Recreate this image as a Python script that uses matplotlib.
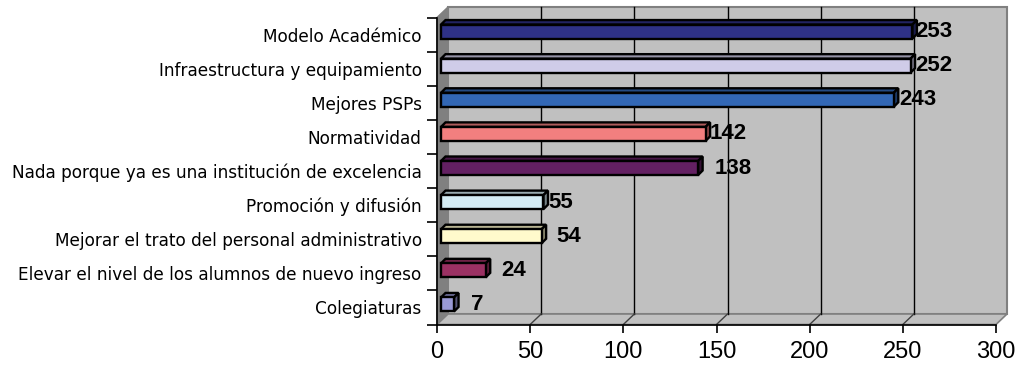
import matplotlib
matplotlib.use("Agg")
import matplotlib.pyplot as plt
from matplotlib.patches import Polygon
from matplotlib import font_manager
import numpy as np
import os

# survey answers, listed top to bottom
categories = [
    "Modelo Académico",
    "Infraestructura y equipamiento",
    "Mejores PSPs",
    "Normatividad",
    "Nada porque ya es una institución de excelencia",
    "Promoción y difusión",
    "Mejorar el trato del personal administrativo",
    "Elevar el nivel de los alumnos de nuevo ingreso",
    "Colegiaturas",
]
counts = [253, 252, 243, 142, 138, 55, 54, 24, 7]
x_ticks = [0, 50, 100, 150, 200, 250, 300]

bar_colors = ["#2E3187", "#CFCCE8", "#3267B5", "#F27F7F", "#632062",
              "#D4ECF4", "#FFFACC", "#9B3163", "#9A9AD6"]
# extra space (px) between each bar end and its value label
label_gap = [-2, 0, 1, 0, 12, 0, 10, 11, 12]


def arial_like(fname, size):
    # pick the regular-width Liberation Sans file, not the Narrow one
    for path in font_manager.findSystemFonts():
        if os.path.basename(path) == fname:
            return font_manager.FontProperties(fname=path, size=size)
    return font_manager.FontProperties(family="Liberation Sans", size=size,
                                       weight="bold" if "Bold" in fname else "normal")


value_font = arial_like("LiberationSans-Bold.ttf", 16)
tick_font = arial_like("LiberationSans-Regular.ttf", 17)

W, H, DPI = 1019, 366, 100
fig = plt.figure(figsize=(W / DPI, H / DPI), dpi=DPI)
left_px, right_px, top_px, bottom_px = 437, 996, 17.5, 324.5
ax = fig.add_axes([left_px / W, 1 - bottom_px / H,
                   (right_px - left_px) / W, (bottom_px - top_px) / H])

xmax, n = 300, len(categories)
ax.set_xlim(0, xmax)
ax.set_ylim(0, n)

# px -> data unit conversion
ux = xmax / (right_px - left_px)
uy = n / (bottom_px - top_px)

# wall depth
dx, dy = 11 * ux, 10.5 * uy

wall = "#C0C0C0"
side = "#808080"
# back wall
ax.add_patch(Polygon([(dx, dy), (xmax + dx, dy), (xmax + dx, n + dy), (dx, n + dy)],
                     closed=True, facecolor=wall, edgecolor=side, lw=1.5,
                     clip_on=False, zorder=0))
# left wall
ax.add_patch(Polygon([(0, 0), (dx, dy), (dx, n + dy), (0, n)],
                     closed=True, facecolor=side, edgecolor=side, lw=1,
                     clip_on=False, zorder=0.5))
# floor
ax.add_patch(Polygon([(0, 0), (xmax, 0), (xmax + dx, dy), (dx, dy)],
                     closed=True, facecolor=wall, edgecolor=side, lw=1.2,
                     clip_on=False, zorder=0.5))

# gridlines on back wall and floor
for t in x_ticks[1:-1]:
    ax.plot([t + dx, t + dx], [dy, n + dy], color="black", lw=1, zorder=0.8, clip_on=False)
    ax.plot([t, t + dx], [0, dy], color="#404040", lw=1, zorder=0.8, clip_on=False)

# 3d bars
fx, fy = 4 * ux, 3 * uy          # front face offset
bx, by = 4.5 * ux, 4.5 * uy      # bar depth
hh = 7 * uy                      # half bar height


def shade(c, f):
    r, g, b = matplotlib.colors.to_rgb(c)
    return (r * f, g * f, b * f)


for k, (v, c) in enumerate(zip(counts, bar_colors)):
    yc = n - 0.5 - k
    y0, y1 = yc - hh + fy, yc + hh + fy
    x0, x1 = fx, v + fx
    kw = dict(closed=True, edgecolor="black", lw=1.7, joinstyle="miter", zorder=3, clip_on=False)
    ax.add_patch(Polygon([(x0, y1), (x1, y1), (x1 + bx, y1 + by), (x0 + bx, y1 + by)],
                         facecolor=shade(c, 0.72), **kw))
    ax.add_patch(Polygon([(x1, y0), (x1 + bx, y0 + by), (x1 + bx, y1 + by), (x1, y1)],
                         facecolor=shade(c, 0.55), **kw))
    ax.add_patch(Polygon([(x0, y0), (x1, y0), (x1, y1), (x0, y1)],
                         facecolor=c, **kw))
    ax.annotate(str(v), xy=(x1 + bx, yc + fy), xytext=(label_gap[k] * 0.72, 0),
                textcoords="offset points", ha="left", va="center",
                fontproperties=value_font, zorder=4, annotation_clip=False)

# axes styling
for s in ("top", "right"):
    ax.spines[s].set_visible(False)
for s in ("left", "bottom"):
    ax.spines[s].set_color("black")
    ax.spines[s].set_linewidth(1.2)
    ax.spines[s].set_zorder(2)

ax.set_xticks(x_ticks)
ax.set_xticklabels([str(t) for t in x_ticks], fontproperties=tick_font)
ax.tick_params(axis="x", direction="out", length=6, width=1.2, pad=6)

ax.set_yticks(np.arange(n + 1), minor=True)
ax.set_yticks(n - 0.5 - np.arange(n))
ax.set_yticklabels(categories, fontsize=12.2, family="DejaVu Sans")
ax.tick_params(axis="y", which="major", length=0, pad=11)
ax.tick_params(axis="y", which="minor", direction="out", length=7, width=1.2)
ax.patch.set_visible(False)

fig.savefig("out.png", dpi=DPI)
